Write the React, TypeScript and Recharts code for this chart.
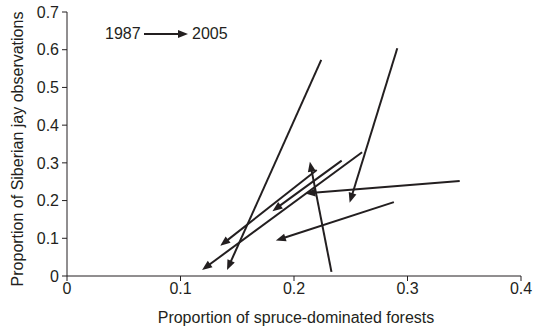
import { ComposedChart, XAxis, YAxis, ReferenceLine, Scatter } from 'recharts'

// each arrow runs from the 1987 value to the 2005 value of one study area
const startSpruce = [0.224, 0.291, 0.26, 0.242, 0.22, 0.233, 0.346, 0.288]
const startJay = [0.573, 0.604, 0.328, 0.306, 0.281, 0.011, 0.252, 0.196]
const endSpruce = [0.141, 0.249, 0.119, 0.181, 0.135, 0.214, 0.21, 0.184]
const endJay = [0.016, 0.194, 0.016, 0.172, 0.08, 0.303, 0.219, 0.094]

const xTicks = [0, 0.1, 0.2, 0.3, 0.4]
const yTicks = [0, 0.1, 0.2, 0.3, 0.4, 0.5, 0.6, 0.7]

const INK = '#231f20'
const FONT = '"Liberation Sans", Arial, sans-serif'

const startPoints = startSpruce.map((x, i) => ({ x, y: startJay[i] }))

function Arrow(props: any) {
  const { x1, y1, x2, y2 } = props
  const dx = x2 - x1
  const dy = y2 - y1
  const len = Math.sqrt(dx * dx + dy * dy) || 1
  const ux = dx / len
  const uy = dy / len
  const headLen = 10
  const headHalf = 4
  const bx = x2 - ux * headLen
  const by = y2 - uy * headLen
  const pts = [
    `${x2},${y2}`,
    `${bx - uy * headHalf},${by + ux * headHalf}`,
    `${bx + uy * headHalf},${by - ux * headHalf}`,
  ].join(' ')
  return (
    <g>
      <line x1={x1} y1={y1} x2={bx + ux * 2} y2={by + uy * 2} stroke={INK} strokeWidth={2} />
      <polygon points={pts} fill={INK} />
    </g>
  )
}

export default function App() {
  const tickStyle = { fill: INK, fontSize: 16, fontFamily: FONT }
  return (
    <div style={{ position: 'absolute', left: 0, top: 0, width: 542, height: 328, background: '#fff' }}>
      <ComposedChart width={542} height={328} margin={{ top: 12, right: 21, bottom: 0, left: 0 }}>
        <XAxis
          type="number"
          dataKey="x"
          domain={[0, 0.4]}
          ticks={xTicks}
          tickFormatter={(v: number) => (v === 0 ? '0' : v.toFixed(1))}
          stroke={INK}
          tickSize={5}
          tickMargin={2}
          tick={tickStyle}
          height={52}
          label={{
            value: 'Proportion of spruce-dominated forests',
            position: 'insideBottom',
            offset: 5,
            dx: 2,
            style: { fill: INK, fontSize: 16, fontFamily: FONT },
          }}
        />
        <YAxis
          type="number"
          dataKey="y"
          domain={[0, 0.7]}
          ticks={yTicks}
          tickFormatter={(v: number) => (v === 0 ? '0' : v.toFixed(1))}
          stroke={INK}
          tickSize={5}
          tickMargin={3}
          tick={tickStyle}
          width={67}
          label={{
            value: 'Proportion of Siberian jay observations',
            angle: -90,
            position: 'center',
            dx: -16,
            dy: 5,
            style: { fill: INK, fontSize: 16, fontFamily: FONT, textAnchor: 'middle' },
          }}
        />
        <Scatter data={startPoints} fill="none" shape={() => <g />} isAnimationActive={false} />
        {startSpruce.map((x, i) => (
          <ReferenceLine
            key={i}
            segment={[
              { x, y: startJay[i] },
              { x: endSpruce[i], y: endJay[i] },
            ]}
            shape={Arrow}
          />
        ))}
      </ComposedChart>
      <div style={{ position: 'absolute', left: 0, top: 25, fontFamily: FONT, fontSize: 16, color: INK, lineHeight: '18px' }}>
        <span style={{ position: 'absolute', left: 105 }}>1987</span>
        <svg width={48} height={12} style={{ position: 'absolute', left: 142, top: 3 }}>
          <line x1={2} y1={6} x2={38} y2={6} stroke={INK} strokeWidth={2} />
          <polygon points="46,6 36,2 36,10" fill={INK} />
        </svg>
        <span style={{ position: 'absolute', left: 192 }}>2005</span>
      </div>
    </div>
  )
}
